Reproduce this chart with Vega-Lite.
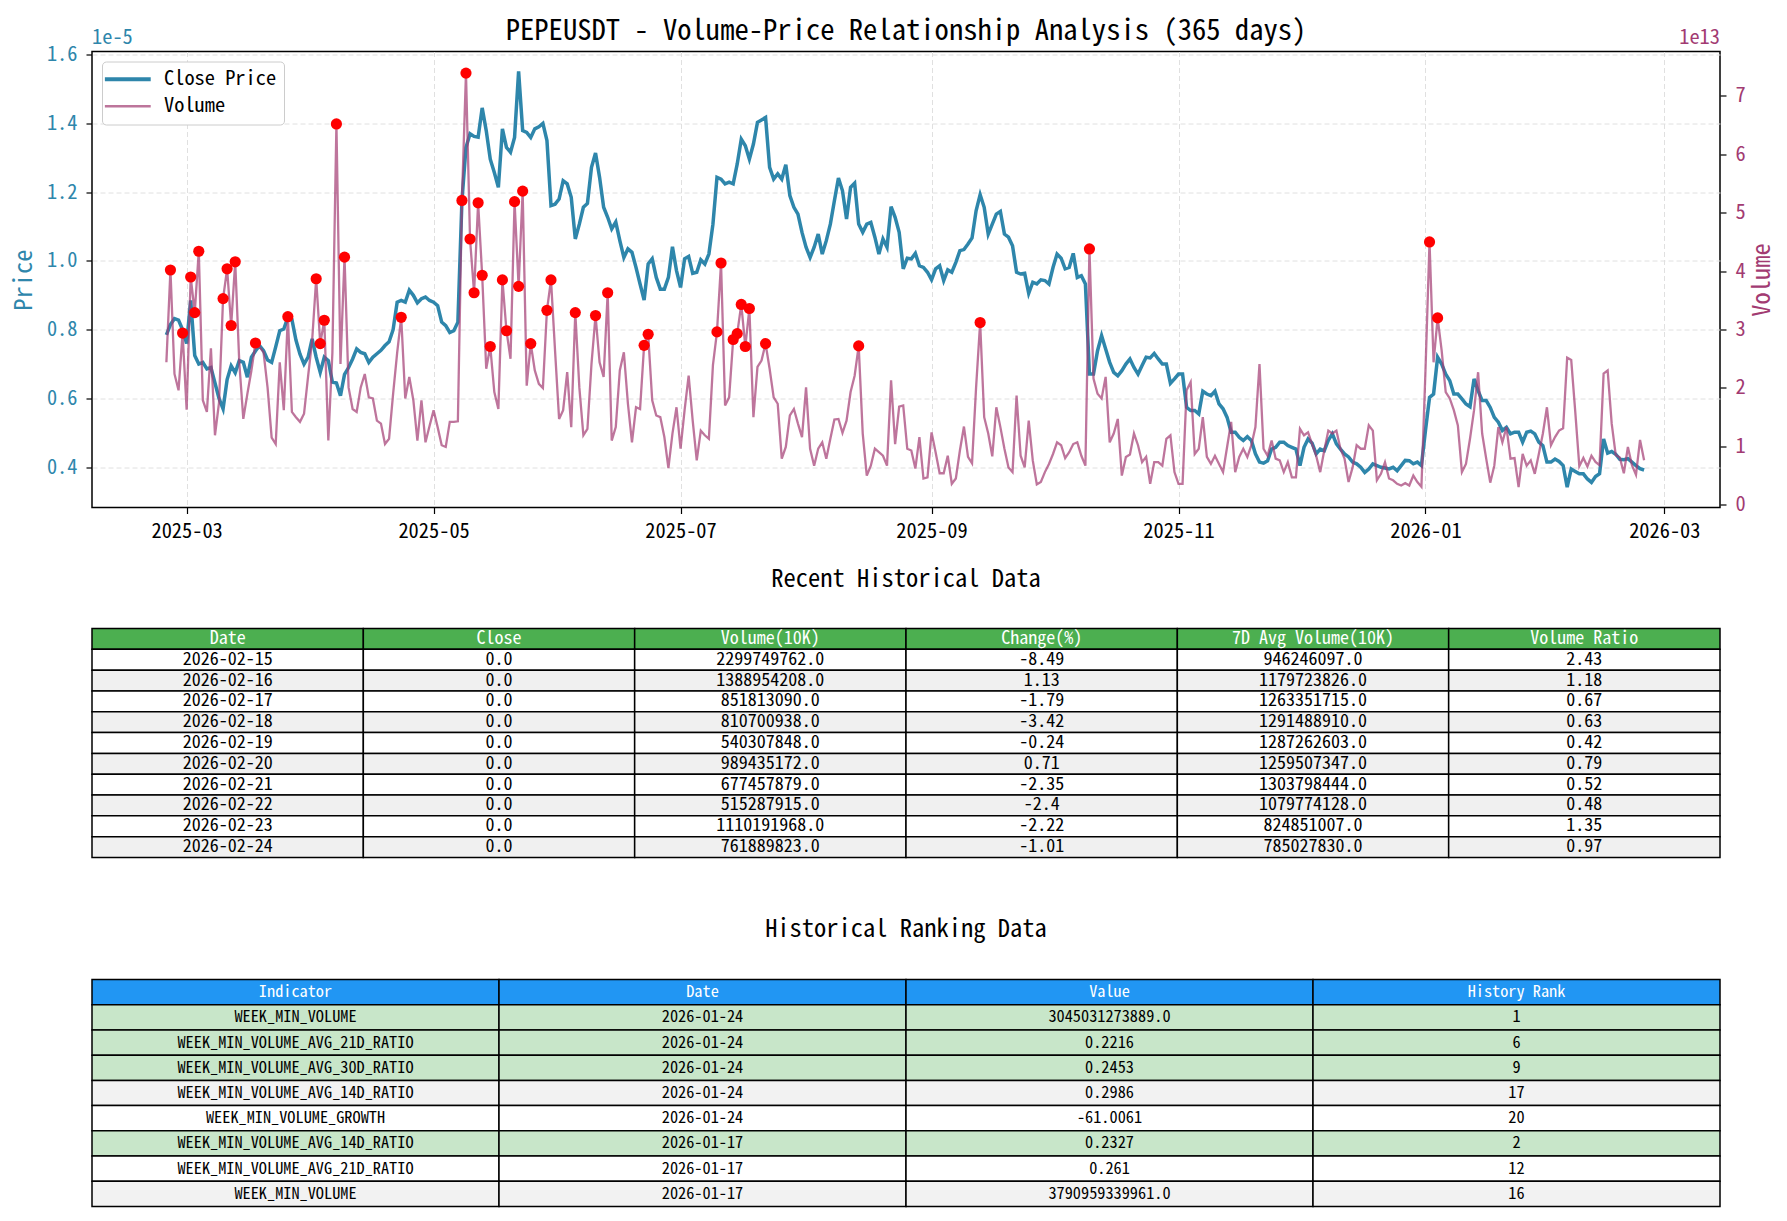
{
"$schema": "https://vega.github.io/schema/vega-lite/v6.json",
"padding": {"left": 10, "top": 15.5, "right": 5, "bottom": 5},
"background": "white",
"spacing": 23,
"datasets": {
"series": [
{"date":"2025-02-24","price":0.785e-5,"volume":2.44e13},
{"date":"2025-02-25","price":0.815e-5,"volume":4.02e13,"spike":true},
{"date":"2025-02-26","price":0.832e-5,"volume":2.24e13},
{"date":"2025-02-27","price":0.828e-5,"volume":1.96e13},
{"date":"2025-02-28","price":0.800e-5,"volume":2.94e13,"spike":true},
{"date":"2025-03-01","price":0.760e-5,"volume":1.63e13},
{"date":"2025-03-02","price":0.885e-5,"volume":3.90e13,"spike":true},
{"date":"2025-03-03","price":0.725e-5,"volume":3.29e13,"spike":true},
{"date":"2025-03-04","price":0.700e-5,"volume":4.34e13,"spike":true},
{"date":"2025-03-05","price":0.705e-5,"volume":1.79e13},
{"date":"2025-03-06","price":0.686e-5,"volume":1.59e13},
{"date":"2025-03-07","price":0.690e-5,"volume":2.68e13},
{"date":"2025-03-08","price":0.645e-5,"volume":1.19e13},
{"date":"2025-03-09","price":0.600e-5,"volume":1.75e13},
{"date":"2025-03-10","price":0.570e-5,"volume":3.53e13,"spike":true},
{"date":"2025-03-11","price":0.655e-5,"volume":4.04e13,"spike":true},
{"date":"2025-03-12","price":0.695e-5,"volume":3.07e13,"spike":true},
{"date":"2025-03-13","price":0.675e-5,"volume":4.16e13,"spike":true},
{"date":"2025-03-14","price":0.710e-5,"volume":2.44e13},
{"date":"2025-03-15","price":0.705e-5,"volume":1.47e13},
{"date":"2025-03-16","price":0.662e-5,"volume":1.90e13},
{"date":"2025-03-17","price":0.720e-5,"volume":2.30e13},
{"date":"2025-03-18","price":0.738e-5,"volume":2.77e13,"spike":true},
{"date":"2025-03-19","price":0.754e-5,"volume":2.70e13},
{"date":"2025-03-20","price":0.739e-5,"volume":2.61e13},
{"date":"2025-03-21","price":0.712e-5,"volume":2.00e13},
{"date":"2025-03-22","price":0.705e-5,"volume":1.15e13},
{"date":"2025-03-23","price":0.750e-5,"volume":1.04e13},
{"date":"2025-03-24","price":0.797e-5,"volume":2.44e13},
{"date":"2025-03-25","price":0.802e-5,"volume":1.62e13},
{"date":"2025-03-26","price":0.836e-5,"volume":3.22e13,"spike":true},
{"date":"2025-03-27","price":0.830e-5,"volume":1.59e13},
{"date":"2025-03-28","price":0.770e-5,"volume":1.50e13},
{"date":"2025-03-29","price":0.729e-5,"volume":1.42e13},
{"date":"2025-03-30","price":0.700e-5,"volume":1.56e13},
{"date":"2025-03-31","price":0.720e-5,"volume":2.20e13},
{"date":"2025-04-01","price":0.773e-5,"volume":2.81e13},
{"date":"2025-04-02","price":0.720e-5,"volume":3.87e13,"spike":true},
{"date":"2025-04-03","price":0.676e-5,"volume":2.76e13,"spike":true},
{"date":"2025-04-04","price":0.720e-5,"volume":3.16e13,"spike":true},
{"date":"2025-04-05","price":0.710e-5,"volume":1.10e13},
{"date":"2025-04-06","price":0.648e-5,"volume":2.60e13},
{"date":"2025-04-07","price":0.645e-5,"volume":6.52e13,"spike":true},
{"date":"2025-04-08","price":0.608e-5,"volume":2.41e13},
{"date":"2025-04-09","price":0.670e-5,"volume":4.24e13,"spike":true},
{"date":"2025-04-10","price":0.690e-5,"volume":2.01e13},
{"date":"2025-04-11","price":0.715e-5,"volume":1.64e13},
{"date":"2025-04-12","price":0.744e-5,"volume":1.59e13},
{"date":"2025-04-13","price":0.734e-5,"volume":2.01e13},
{"date":"2025-04-14","price":0.730e-5,"volume":2.24e13},
{"date":"2025-04-15","price":0.705e-5,"volume":1.84e13},
{"date":"2025-04-16","price":0.720e-5,"volume":1.82e13},
{"date":"2025-04-17","price":0.730e-5,"volume":1.44e13},
{"date":"2025-04-18","price":0.740e-5,"volume":1.39e13},
{"date":"2025-04-19","price":0.754e-5,"volume":1.04e13},
{"date":"2025-04-20","price":0.765e-5,"volume":1.13e13},
{"date":"2025-04-21","price":0.800e-5,"volume":1.90e13},
{"date":"2025-04-22","price":0.880e-5,"volume":2.60e13},
{"date":"2025-04-23","price":0.885e-5,"volume":3.21e13,"spike":true},
{"date":"2025-04-24","price":0.880e-5,"volume":1.82e13},
{"date":"2025-04-25","price":0.915e-5,"volume":2.19e13},
{"date":"2025-04-26","price":0.900e-5,"volume":1.79e13},
{"date":"2025-04-27","price":0.878e-5,"volume":1.10e13},
{"date":"2025-04-28","price":0.890e-5,"volume":1.79e13},
{"date":"2025-04-29","price":0.895e-5,"volume":1.07e13},
{"date":"2025-04-30","price":0.885e-5,"volume":1.35e13},
{"date":"2025-05-01","price":0.880e-5,"volume":1.62e13},
{"date":"2025-05-02","price":0.870e-5,"volume":1.33e13},
{"date":"2025-05-03","price":0.822e-5,"volume":1.02e13},
{"date":"2025-05-04","price":0.812e-5,"volume":0.99e13},
{"date":"2025-05-05","price":0.792e-5,"volume":1.42e13},
{"date":"2025-05-06","price":0.797e-5,"volume":1.42e13},
{"date":"2025-05-07","price":0.822e-5,"volume":1.43e13},
{"date":"2025-05-08","price":1.175e-5,"volume":5.21e13,"spike":true},
{"date":"2025-05-09","price":1.330e-5,"volume":7.39e13,"spike":true},
{"date":"2025-05-10","price":1.370e-5,"volume":4.55e13,"spike":true},
{"date":"2025-05-11","price":1.362e-5,"volume":3.63e13,"spike":true},
{"date":"2025-05-12","price":1.360e-5,"volume":5.17e13,"spike":true},
{"date":"2025-05-13","price":1.445e-5,"volume":3.93e13,"spike":true},
{"date":"2025-05-14","price":1.379e-5,"volume":2.33e13},
{"date":"2025-05-15","price":1.296e-5,"volume":2.71e13,"spike":true},
{"date":"2025-05-16","price":1.257e-5,"volume":1.93e13},
{"date":"2025-05-17","price":1.214e-5,"volume":1.64e13},
{"date":"2025-05-18","price":1.384e-5,"volume":3.85e13,"spike":true},
{"date":"2025-05-19","price":1.330e-5,"volume":2.98e13,"spike":true},
{"date":"2025-05-20","price":1.316e-5,"volume":2.50e13},
{"date":"2025-05-21","price":1.359e-5,"volume":5.19e13,"spike":true},
{"date":"2025-05-22","price":1.551e-5,"volume":3.74e13,"spike":true},
{"date":"2025-05-23","price":1.379e-5,"volume":5.37e13,"spike":true},
{"date":"2025-05-24","price":1.374e-5,"volume":2.04e13},
{"date":"2025-05-25","price":1.359e-5,"volume":2.76e13,"spike":true},
{"date":"2025-05-26","price":1.384e-5,"volume":2.30e13},
{"date":"2025-05-27","price":1.390e-5,"volume":2.07e13},
{"date":"2025-05-28","price":1.400e-5,"volume":2.00e13},
{"date":"2025-05-29","price":1.350e-5,"volume":3.33e13,"spike":true},
{"date":"2025-05-30","price":1.161e-5,"volume":3.85e13,"spike":true},
{"date":"2025-05-31","price":1.165e-5,"volume":2.64e13},
{"date":"2025-06-01","price":1.180e-5,"volume":1.47e13},
{"date":"2025-06-02","price":1.233e-5,"volume":1.62e13},
{"date":"2025-06-03","price":1.224e-5,"volume":2.27e13},
{"date":"2025-06-04","price":1.185e-5,"volume":1.33e13},
{"date":"2025-06-05","price":1.064e-5,"volume":3.29e13,"spike":true},
{"date":"2025-06-06","price":1.107e-5,"volume":2.01e13},
{"date":"2025-06-07","price":1.156e-5,"volume":1.19e13},
{"date":"2025-06-08","price":1.167e-5,"volume":1.30e13},
{"date":"2025-06-09","price":1.272e-5,"volume":2.41e13},
{"date":"2025-06-10","price":1.314e-5,"volume":3.24e13,"spike":true},
{"date":"2025-06-11","price":1.243e-5,"volume":2.44e13},
{"date":"2025-06-12","price":1.156e-5,"volume":2.19e13},
{"date":"2025-06-13","price":1.127e-5,"volume":3.63e13,"spike":true},
{"date":"2025-06-14","price":1.093e-5,"volume":1.10e13},
{"date":"2025-06-15","price":1.113e-5,"volume":1.33e13},
{"date":"2025-06-16","price":1.059e-5,"volume":2.30e13},
{"date":"2025-06-17","price":1.010e-5,"volume":2.61e13},
{"date":"2025-06-18","price":1.035e-5,"volume":1.73e13},
{"date":"2025-06-19","price":1.025e-5,"volume":1.07e13},
{"date":"2025-06-20","price":0.981e-5,"volume":1.67e13},
{"date":"2025-06-21","price":0.933e-5,"volume":1.64e13},
{"date":"2025-06-22","price":0.886e-5,"volume":2.73e13,"spike":true},
{"date":"2025-06-23","price":0.991e-5,"volume":2.92e13,"spike":true},
{"date":"2025-06-24","price":1.006e-5,"volume":1.79e13},
{"date":"2025-06-25","price":0.952e-5,"volume":1.53e13},
{"date":"2025-06-26","price":0.918e-5,"volume":1.50e13},
{"date":"2025-06-27","price":0.918e-5,"volume":1.16e13},
{"date":"2025-06-28","price":0.952e-5,"volume":0.63e13},
{"date":"2025-06-29","price":1.041e-5,"volume":1.22e13},
{"date":"2025-06-30","price":0.972e-5,"volume":1.67e13},
{"date":"2025-07-01","price":0.923e-5,"volume":0.96e13},
{"date":"2025-07-02","price":1.006e-5,"volume":1.62e13},
{"date":"2025-07-03","price":1.013e-5,"volume":2.21e13},
{"date":"2025-07-04","price":0.964e-5,"volume":1.44e13},
{"date":"2025-07-05","price":0.967e-5,"volume":0.76e13},
{"date":"2025-07-06","price":1.003e-5,"volume":1.27e13},
{"date":"2025-07-07","price":0.991e-5,"volume":1.19e13},
{"date":"2025-07-08","price":1.020e-5,"volume":1.13e13},
{"date":"2025-07-09","price":1.107e-5,"volume":2.39e13},
{"date":"2025-07-10","price":1.243e-5,"volume":2.96e13,"spike":true},
{"date":"2025-07-11","price":1.238e-5,"volume":4.14e13,"spike":true},
{"date":"2025-07-12","price":1.224e-5,"volume":1.70e13},
{"date":"2025-07-13","price":1.229e-5,"volume":1.84e13},
{"date":"2025-07-14","price":1.224e-5,"volume":2.83e13,"spike":true},
{"date":"2025-07-15","price":1.282e-5,"volume":2.93e13,"spike":true},
{"date":"2025-07-16","price":1.354e-5,"volume":3.43e13,"spike":true},
{"date":"2025-07-17","price":1.335e-5,"volume":2.71e13,"spike":true},
{"date":"2025-07-18","price":1.296e-5,"volume":3.36e13,"spike":true},
{"date":"2025-07-19","price":1.340e-5,"volume":1.50e13},
{"date":"2025-07-20","price":1.403e-5,"volume":2.36e13},
{"date":"2025-07-21","price":1.410e-5,"volume":2.47e13},
{"date":"2025-07-22","price":1.417e-5,"volume":2.76e13,"spike":true},
{"date":"2025-07-23","price":1.272e-5,"volume":2.33e13},
{"date":"2025-07-24","price":1.238e-5,"volume":1.84e13},
{"date":"2025-07-25","price":1.253e-5,"volume":1.73e13},
{"date":"2025-07-26","price":1.238e-5,"volume":0.79e13},
{"date":"2025-07-27","price":1.280e-5,"volume":0.99e13},
{"date":"2025-07-28","price":1.190e-5,"volume":1.53e13},
{"date":"2025-07-29","price":1.156e-5,"volume":1.64e13},
{"date":"2025-07-30","price":1.136e-5,"volume":1.39e13},
{"date":"2025-07-31","price":1.083e-5,"volume":1.16e13},
{"date":"2025-08-01","price":1.040e-5,"volume":2.01e13},
{"date":"2025-08-02","price":1.010e-5,"volume":0.96e13},
{"date":"2025-08-03","price":1.040e-5,"volume":0.67e13},
{"date":"2025-08-04","price":1.078e-5,"volume":0.96e13},
{"date":"2025-08-05","price":1.020e-5,"volume":1.07e13},
{"date":"2025-08-06","price":1.059e-5,"volume":0.79e13},
{"date":"2025-08-07","price":1.107e-5,"volume":1.13e13},
{"date":"2025-08-08","price":1.175e-5,"volume":1.46e13},
{"date":"2025-08-09","price":1.241e-5,"volume":1.47e13},
{"date":"2025-08-10","price":1.204e-5,"volume":1.23e13},
{"date":"2025-08-11","price":1.122e-5,"volume":1.44e13},
{"date":"2025-08-12","price":1.214e-5,"volume":1.93e13},
{"date":"2025-08-13","price":1.226e-5,"volume":2.21e13},
{"date":"2025-08-14","price":1.107e-5,"volume":2.72e13,"spike":true},
{"date":"2025-08-15","price":1.083e-5,"volume":1.22e13},
{"date":"2025-08-16","price":1.107e-5,"volume":0.50e13},
{"date":"2025-08-17","price":1.112e-5,"volume":0.67e13},
{"date":"2025-08-18","price":1.069e-5,"volume":0.96e13},
{"date":"2025-08-19","price":1.020e-5,"volume":0.90e13},
{"date":"2025-08-20","price":1.064e-5,"volume":0.84e13},
{"date":"2025-08-21","price":1.040e-5,"volume":0.67e13},
{"date":"2025-08-22","price":1.158e-5,"volume":2.13e13},
{"date":"2025-08-23","price":1.127e-5,"volume":1.04e13},
{"date":"2025-08-24","price":1.083e-5,"volume":1.68e13},
{"date":"2025-08-25","price":0.977e-5,"volume":1.70e13},
{"date":"2025-08-26","price":1.008e-5,"volume":0.96e13},
{"date":"2025-08-27","price":1.006e-5,"volume":0.93e13},
{"date":"2025-08-28","price":1.022e-5,"volume":0.62e13},
{"date":"2025-08-29","price":0.986e-5,"volume":1.16e13},
{"date":"2025-08-30","price":0.981e-5,"volume":0.45e13},
{"date":"2025-08-31","price":0.967e-5,"volume":0.47e13},
{"date":"2025-09-01","price":0.945e-5,"volume":1.24e13},
{"date":"2025-09-02","price":0.977e-5,"volume":0.90e13},
{"date":"2025-09-03","price":0.986e-5,"volume":0.54e13},
{"date":"2025-09-04","price":0.943e-5,"volume":0.54e13},
{"date":"2025-09-05","price":0.974e-5,"volume":0.84e13},
{"date":"2025-09-06","price":0.967e-5,"volume":0.36e13},
{"date":"2025-09-07","price":0.996e-5,"volume":0.45e13},
{"date":"2025-09-08","price":1.030e-5,"volume":0.93e13},
{"date":"2025-09-09","price":1.033e-5,"volume":1.34e13},
{"date":"2025-09-10","price":1.049e-5,"volume":0.82e13},
{"date":"2025-09-11","price":1.067e-5,"volume":0.71e13},
{"date":"2025-09-12","price":1.146e-5,"volume":2.01e13},
{"date":"2025-09-13","price":1.193e-5,"volume":3.12e13,"spike":true},
{"date":"2025-09-14","price":1.156e-5,"volume":1.50e13},
{"date":"2025-09-15","price":1.078e-5,"volume":1.22e13},
{"date":"2025-09-16","price":1.107e-5,"volume":0.83e13},
{"date":"2025-09-17","price":1.136e-5,"volume":1.67e13},
{"date":"2025-09-18","price":1.144e-5,"volume":1.33e13},
{"date":"2025-09-19","price":1.078e-5,"volume":0.96e13},
{"date":"2025-09-20","price":1.069e-5,"volume":0.64e13},
{"date":"2025-09-21","price":1.044e-5,"volume":0.56e13},
{"date":"2025-09-22","price":0.967e-5,"volume":1.87e13},
{"date":"2025-09-23","price":0.962e-5,"volume":0.84e13},
{"date":"2025-09-24","price":0.964e-5,"volume":0.64e13},
{"date":"2025-09-25","price":0.906e-5,"volume":1.44e13},
{"date":"2025-09-26","price":0.938e-5,"volume":0.76e13},
{"date":"2025-09-27","price":0.933e-5,"volume":0.35e13},
{"date":"2025-09-28","price":0.945e-5,"volume":0.39e13},
{"date":"2025-09-29","price":0.943e-5,"volume":0.56e13},
{"date":"2025-09-30","price":0.933e-5,"volume":0.70e13},
{"date":"2025-10-01","price":0.981e-5,"volume":0.87e13},
{"date":"2025-10-02","price":1.020e-5,"volume":1.07e13},
{"date":"2025-10-03","price":1.008e-5,"volume":1.02e13},
{"date":"2025-10-04","price":0.977e-5,"volume":0.80e13},
{"date":"2025-10-05","price":0.981e-5,"volume":0.90e13},
{"date":"2025-10-06","price":1.022e-5,"volume":1.04e13},
{"date":"2025-10-07","price":0.952e-5,"volume":1.07e13},
{"date":"2025-10-08","price":0.957e-5,"volume":0.84e13},
{"date":"2025-10-09","price":0.933e-5,"volume":0.67e13},
{"date":"2025-10-10","price":0.671e-5,"volume":4.38e13,"spike":true},
{"date":"2025-10-11","price":0.671e-5,"volume":2.16e13},
{"date":"2025-10-12","price":0.739e-5,"volume":1.90e13},
{"date":"2025-10-13","price":0.783e-5,"volume":1.82e13},
{"date":"2025-10-14","price":0.744e-5,"volume":2.19e13},
{"date":"2025-10-15","price":0.705e-5,"volume":1.07e13},
{"date":"2025-10-16","price":0.676e-5,"volume":1.22e13},
{"date":"2025-10-17","price":0.666e-5,"volume":1.47e13},
{"date":"2025-10-18","price":0.681e-5,"volume":0.50e13},
{"date":"2025-10-19","price":0.700e-5,"volume":0.82e13},
{"date":"2025-10-20","price":0.715e-5,"volume":0.86e13},
{"date":"2025-10-21","price":0.690e-5,"volume":1.22e13},
{"date":"2025-10-22","price":0.671e-5,"volume":1.02e13},
{"date":"2025-10-23","price":0.696e-5,"volume":0.73e13},
{"date":"2025-10-24","price":0.720e-5,"volume":0.82e13},
{"date":"2025-10-25","price":0.718e-5,"volume":0.36e13},
{"date":"2025-10-26","price":0.731e-5,"volume":0.73e13},
{"date":"2025-10-27","price":0.715e-5,"volume":0.73e13},
{"date":"2025-10-28","price":0.700e-5,"volume":0.67e13},
{"date":"2025-10-29","price":0.700e-5,"volume":1.13e13},
{"date":"2025-10-30","price":0.644e-5,"volume":1.19e13},
{"date":"2025-10-31","price":0.657e-5,"volume":0.56e13},
{"date":"2025-11-01","price":0.671e-5,"volume":0.36e13},
{"date":"2025-11-02","price":0.671e-5,"volume":0.36e13},
{"date":"2025-11-03","price":0.574e-5,"volume":1.96e13},
{"date":"2025-11-04","price":0.565e-5,"volume":2.10e13},
{"date":"2025-11-05","price":0.565e-5,"volume":0.87e13},
{"date":"2025-11-06","price":0.555e-5,"volume":0.96e13},
{"date":"2025-11-07","price":0.621e-5,"volume":1.50e13},
{"date":"2025-11-08","price":0.613e-5,"volume":0.82e13},
{"date":"2025-11-09","price":0.608e-5,"volume":0.70e13},
{"date":"2025-11-10","price":0.621e-5,"volume":0.84e13},
{"date":"2025-11-11","price":0.584e-5,"volume":0.70e13},
{"date":"2025-11-12","price":0.570e-5,"volume":0.56e13},
{"date":"2025-11-13","price":0.545e-5,"volume":0.99e13},
{"date":"2025-11-14","price":0.502e-5,"volume":1.42e13},
{"date":"2025-11-15","price":0.502e-5,"volume":0.56e13},
{"date":"2025-11-16","price":0.487e-5,"volume":0.82e13},
{"date":"2025-11-17","price":0.478e-5,"volume":0.96e13},
{"date":"2025-11-18","price":0.489e-5,"volume":0.82e13},
{"date":"2025-11-19","price":0.478e-5,"volume":1.02e13},
{"date":"2025-11-20","price":0.439e-5,"volume":1.33e13},
{"date":"2025-11-21","price":0.415e-5,"volume":2.41e13},
{"date":"2025-11-22","price":0.412e-5,"volume":0.96e13},
{"date":"2025-11-23","price":0.419e-5,"volume":0.84e13},
{"date":"2025-11-24","price":0.453e-5,"volume":1.10e13},
{"date":"2025-11-25","price":0.458e-5,"volume":0.79e13},
{"date":"2025-11-26","price":0.473e-5,"volume":0.76e13},
{"date":"2025-11-27","price":0.473e-5,"volume":0.56e13},
{"date":"2025-11-28","price":0.463e-5,"volume":0.73e13},
{"date":"2025-11-29","price":0.458e-5,"volume":0.47e13},
{"date":"2025-11-30","price":0.453e-5,"volume":0.47e13},
{"date":"2025-12-01","price":0.405e-5,"volume":1.30e13},
{"date":"2025-12-02","price":0.458e-5,"volume":1.19e13},
{"date":"2025-12-03","price":0.482e-5,"volume":1.24e13},
{"date":"2025-12-04","price":0.470e-5,"volume":1.04e13},
{"date":"2025-12-05","price":0.439e-5,"volume":0.84e13},
{"date":"2025-12-06","price":0.453e-5,"volume":0.56e13},
{"date":"2025-12-07","price":0.448e-5,"volume":0.93e13},
{"date":"2025-12-08","price":0.478e-5,"volume":1.27e13},
{"date":"2025-12-09","price":0.497e-5,"volume":1.22e13},
{"date":"2025-12-10","price":0.468e-5,"volume":1.27e13},
{"date":"2025-12-11","price":0.453e-5,"volume":0.96e13},
{"date":"2025-12-12","price":0.439e-5,"volume":0.79e13},
{"date":"2025-12-13","price":0.430e-5,"volume":0.39e13},
{"date":"2025-12-14","price":0.415e-5,"volume":0.64e13},
{"date":"2025-12-15","price":0.410e-5,"volume":1.02e13},
{"date":"2025-12-16","price":0.400e-5,"volume":0.96e13},
{"date":"2025-12-17","price":0.385e-5,"volume":0.96e13},
{"date":"2025-12-18","price":0.395e-5,"volume":1.36e13},
{"date":"2025-12-19","price":0.410e-5,"volume":1.27e13},
{"date":"2025-12-20","price":0.405e-5,"volume":0.42e13},
{"date":"2025-12-21","price":0.400e-5,"volume":0.53e13},
{"date":"2025-12-22","price":0.398e-5,"volume":0.73e13},
{"date":"2025-12-23","price":0.395e-5,"volume":0.45e13},
{"date":"2025-12-24","price":0.400e-5,"volume":0.42e13},
{"date":"2025-12-25","price":0.390e-5,"volume":0.36e13},
{"date":"2025-12-26","price":0.405e-5,"volume":0.33e13},
{"date":"2025-12-27","price":0.420e-5,"volume":0.37e13},
{"date":"2025-12-28","price":0.419e-5,"volume":0.33e13},
{"date":"2025-12-29","price":0.410e-5,"volume":0.50e13},
{"date":"2025-12-30","price":0.415e-5,"volume":0.39e13},
{"date":"2025-12-31","price":0.405e-5,"volume":0.31e13},
{"date":"2026-01-01","price":0.507e-5,"volume":2.30e13},
{"date":"2026-01-02","price":0.603e-5,"volume":4.50e13,"spike":true},
{"date":"2026-01-03","price":0.613e-5,"volume":2.44e13},
{"date":"2026-01-04","price":0.720e-5,"volume":3.20e13,"spike":true},
{"date":"2026-01-05","price":0.700e-5,"volume":2.64e13},
{"date":"2026-01-06","price":0.671e-5,"volume":1.93e13},
{"date":"2026-01-07","price":0.652e-5,"volume":1.82e13},
{"date":"2026-01-08","price":0.613e-5,"volume":1.62e13},
{"date":"2026-01-09","price":0.613e-5,"volume":1.36e13},
{"date":"2026-01-10","price":0.599e-5,"volume":0.56e13},
{"date":"2026-01-11","price":0.584e-5,"volume":0.70e13},
{"date":"2026-01-12","price":0.576e-5,"volume":1.13e13},
{"date":"2026-01-13","price":0.657e-5,"volume":1.62e13},
{"date":"2026-01-14","price":0.623e-5,"volume":2.27e13},
{"date":"2026-01-15","price":0.594e-5,"volume":1.22e13},
{"date":"2026-01-16","price":0.594e-5,"volume":0.79e13},
{"date":"2026-01-17","price":0.574e-5,"volume":0.3791e13},
{"date":"2026-01-18","price":0.545e-5,"volume":0.67e13},
{"date":"2026-01-19","price":0.531e-5,"volume":1.33e13},
{"date":"2026-01-20","price":0.507e-5,"volume":1.07e13},
{"date":"2026-01-21","price":0.516e-5,"volume":1.33e13},
{"date":"2026-01-22","price":0.497e-5,"volume":0.79e13},
{"date":"2026-01-23","price":0.502e-5,"volume":0.80e13},
{"date":"2026-01-24","price":0.502e-5,"volume":0.3045e13},
{"date":"2026-01-25","price":0.473e-5,"volume":0.87e13},
{"date":"2026-01-26","price":0.502e-5,"volume":0.67e13},
{"date":"2026-01-27","price":0.505e-5,"volume":0.76e13},
{"date":"2026-01-28","price":0.497e-5,"volume":0.53e13},
{"date":"2026-01-29","price":0.473e-5,"volume":0.87e13},
{"date":"2026-01-30","price":0.463e-5,"volume":1.22e13},
{"date":"2026-01-31","price":0.415e-5,"volume":1.67e13},
{"date":"2026-02-01","price":0.415e-5,"volume":1.02e13},
{"date":"2026-02-02","price":0.424e-5,"volume":1.16e13},
{"date":"2026-02-03","price":0.417e-5,"volume":1.27e13},
{"date":"2026-02-04","price":0.405e-5,"volume":1.31e13},
{"date":"2026-02-05","price":0.342e-5,"volume":2.52e13},
{"date":"2026-02-06","price":0.395e-5,"volume":2.48e13},
{"date":"2026-02-07","price":0.388e-5,"volume":1.59e13},
{"date":"2026-02-08","price":0.381e-5,"volume":0.662e13},
{"date":"2026-02-09","price":0.381e-5,"volume":0.803e13},
{"date":"2026-02-10","price":0.366e-5,"volume":0.656e13},
{"date":"2026-02-11","price":0.356e-5,"volume":0.840e13},
{"date":"2026-02-12","price":0.373e-5,"volume":0.734e13},
{"date":"2026-02-13","price":0.381e-5,"volume":0.679e13},
{"date":"2026-02-14","price":0.482e-5,"volume":2.245e13},
{"date":"2026-02-15","price":0.441e-5,"volume":2.2997e13},
{"date":"2026-02-16","price":0.446e-5,"volume":1.3890e13},
{"date":"2026-02-17","price":0.438e-5,"volume":0.8518e13},
{"date":"2026-02-18","price":0.423e-5,"volume":0.8107e13},
{"date":"2026-02-19","price":0.422e-5,"volume":0.5403e13},
{"date":"2026-02-20","price":0.425e-5,"volume":0.9894e13},
{"date":"2026-02-21","price":0.415e-5,"volume":0.6775e13},
{"date":"2026-02-22","price":0.405e-5,"volume":0.5153e13},
{"date":"2026-02-23","price":0.396e-5,"volume":1.1102e13},
{"date":"2026-02-24","price":0.392e-5,"volume":0.7619e13}
],
"t1": [
{"r":0,"a":"Date","b":"Close","c":"Volume(10K)","d":"Change(%)","e":"7D Avg Volume(10K)","f":"Volume Ratio"},
{"r":1,"a":"2026-02-15","b":"0.0","c":"2299749762.0","d":"-8.49","e":"946246097.0","f":"2.43"},
{"r":2,"a":"2026-02-16","b":"0.0","c":"1388954208.0","d":"1.13","e":"1179723826.0","f":"1.18"},
{"r":3,"a":"2026-02-17","b":"0.0","c":"851813090.0","d":"-1.79","e":"1263351715.0","f":"0.67"},
{"r":4,"a":"2026-02-18","b":"0.0","c":"810700938.0","d":"-3.42","e":"1291488910.0","f":"0.63"},
{"r":5,"a":"2026-02-19","b":"0.0","c":"540307848.0","d":"-0.24","e":"1287262603.0","f":"0.42"},
{"r":6,"a":"2026-02-20","b":"0.0","c":"989435172.0","d":"0.71","e":"1259507347.0","f":"0.79"},
{"r":7,"a":"2026-02-21","b":"0.0","c":"677457879.0","d":"-2.35","e":"1303798444.0","f":"0.52"},
{"r":8,"a":"2026-02-22","b":"0.0","c":"515287915.0","d":"-2.4","e":"1079774128.0","f":"0.48"},
{"r":9,"a":"2026-02-23","b":"0.0","c":"1110191968.0","d":"-2.22","e":"824851007.0","f":"1.35"},
{"r":10,"a":"2026-02-24","b":"0.0","c":"761889823.0","d":"-1.01","e":"785027830.0","f":"0.97"}
],
"t2": [
{"r":0,"a":"Indicator","b":"Date","c":"Value","d":"History Rank"},
{"r":1,"a":"WEEK_MIN_VOLUME","b":"2026-01-24","c":"3045031273889.0","d":"1","rank":1},
{"r":2,"a":"WEEK_MIN_VOLUME_AVG_21D_RATIO","b":"2026-01-24","c":"0.2216","d":"6","rank":6},
{"r":3,"a":"WEEK_MIN_VOLUME_AVG_30D_RATIO","b":"2026-01-24","c":"0.2453","d":"9","rank":9},
{"r":4,"a":"WEEK_MIN_VOLUME_AVG_14D_RATIO","b":"2026-01-24","c":"0.2986","d":"17","rank":17},
{"r":5,"a":"WEEK_MIN_VOLUME_GROWTH","b":"2026-01-24","c":"-61.0061","d":"20","rank":20},
{"r":6,"a":"WEEK_MIN_VOLUME_AVG_14D_RATIO","b":"2026-01-17","c":"0.2327","d":"2","rank":2},
{"r":7,"a":"WEEK_MIN_VOLUME_AVG_21D_RATIO","b":"2026-01-17","c":"0.261","d":"12","rank":12},
{"r":8,"a":"WEEK_MIN_VOLUME","b":"2026-01-17","c":"3790959339961.0","d":"16","rank":16}
]
},
"vconcat": [
{
"width": 1628,
"height": 456,
"title": {"text": "PEPEUSDT - Volume-Price Relationship Analysis (365 days)", "fontSize": 28.6, "fontWeight": "normal", "frame": "group", "anchor": "middle", "offset": -17.8, "color": "black"},
"view": {"stroke": "black", "strokeWidth": 1.5},
"data": {"name": "series"},
"encoding": {
"x": {"field": "date", "type": "temporal", "title": null,
"scale": {"type": "utc", "domain": [{"year": 2025, "month": 2, "date": 5, "hours": 15, "utc": true}, {"year": 2026, "month": 3, "date": 14, "hours": 18, "utc": true}]},
"axis": {"values": [{"year": 2025, "month": 3, "date": 1, "utc": true}, {"year": 2025, "month": 5, "date": 1, "utc": true}, {"year": 2025, "month": 7, "date": 1, "utc": true}, {"year": 2025, "month": 9, "date": 1, "utc": true}, {"year": 2025, "month": 11, "date": 1, "utc": true}, {"year": 2026, "month": 1, "date": 1, "utc": true}, {"year": 2026, "month": 3, "date": 1, "utc": true}],
"labelExpr": "utcFormat(datum.value, '%Y-%m')", "grid": true, "gridDash": [5, 3], "gridColor": "#e0e0e0", "gridWidth": 1, "domain": false, "labelColor": "black", "labelPadding": 8}}
},
"layer": [
{"layer": [
{"mark": {"type": "line", "strokeWidth": 3.5},
"encoding": {
"y": {"field": "price", "type": "quantitative", "title": "Price",
"scale": {"domain": [0.283e-5, 1.609e-5], "nice": false, "zero": false},
"axis": {"values": [0.4e-5, 0.6e-5, 0.8e-5, 1.0e-5, 1.2e-5, 1.4e-5, 1.6e-5], "labelExpr": "format(datum.value * 1e5, '.1f')", "labelColor": "#2E86AB", "titleColor": "#2E86AB", "grid": true, "gridDash": [5, 3], "gridColor": "#e0e0e0", "gridWidth": 1, "domain": false, "labelPadding": 9, "titlePadding": 10}},
"color": {"datum": "Close Price", "type": "nominal",
"scale": {"domain": ["Close Price", "Volume"], "range": ["#2E86AB", "#A23B72"]},
"legend": {"title": null, "orient": "top-left", "offset": 10, "fillColor": "white", "strokeColor": "#cccccc", "cornerRadius": 4, "padding": 7.6, "symbolType": "stroke", "symbolSize": 2100, "symbolStrokeWidth": 3.5, "symbolOffset": 8, "labelFontSize": 20.4, "labelOffset": 26, "rowPadding": 6, "labelColor": "black",
"encode": {"symbols": {"update": {"strokeWidth": {"signal": "datum.value === 'Close Price' ? 4 : 2.5"}, "opacity": {"signal": "datum.value === 'Close Price' ? 1 : 0.7"}}}}}}
}},
{"transform": [{"window": [{"op": "row_number", "as": "rn"}]}, {"filter": "datum.rn == 1"}],
"mark": {"type": "text", "align": "left", "baseline": "bottom", "dy": -4, "fontSize": 20.4, "color": "#2E86AB", "text": "1e-5"},
"encoding": {"x": {"datum": {"year": 2025, "month": 2, "date": 5, "hours": 15, "utc": true}, "type": "temporal"}, "y": {"datum": 1.609e-5, "type": "quantitative"}}},
{"transform": [{"window": [{"op": "row_number", "as": "rn"}]}, {"filter": "datum.rn == 1"}],
"mark": {"type": "text", "align": "right", "baseline": "bottom", "dy": -4, "fontSize": 20.4, "color": "#A23B72", "text": "1e13"},
"encoding": {"x": {"datum": {"year": 2026, "month": 3, "date": 14, "hours": 18, "utc": true}, "type": "temporal"}, "y": {"datum": 1.609e-5, "type": "quantitative"}}}
]},
{"layer": [
{"mark": {"type": "line", "strokeWidth": 2.3, "opacity": 0.7},
"encoding": {
"y": {"field": "volume", "type": "quantitative", "title": "Volume",
"scale": {"domain": [-0.046e13, 7.76e13], "nice": false, "zero": false},
"axis": {"orient": "right", "values": [0, 1e13, 2e13, 3e13, 4e13, 5e13, 6e13, 7e13], "labelExpr": "format(datum.value / 1e13, 'd')", "labelColor": "#A23B72", "titleColor": "#A23B72", "grid": false, "domain": false, "labelPadding": 9, "titlePadding": 5, "titleAngle": 270, "titleBaseline": "top"}},
"color": {"datum": "Volume", "type": "nominal", "scale": {"domain": ["Close Price", "Volume"], "range": ["#2E86AB", "#A23B72"]}}
}},
{"transform": [{"filter": "datum.spike === true"}],
"mark": {"type": "circle", "color": "#FF0000", "opacity": 1, "size": 125},
"encoding": {"y": {"field": "volume", "type": "quantitative"}}}
]}
],
"resolve": {"scale": {"y": "independent"}}
},
{
"spacing": 58,
"vconcat": [
{
"width": 1628,
"height": 229,
"title": {"text": "Recent Historical Data", "fontSize": 24.5, "fontWeight": "normal", "frame": "group", "anchor": "middle", "offset": 35, "color": "black"},
"data": {"name": "t1"},
"transform": [{"fold": ["a", "b", "c", "d", "e", "f"], "as": ["col", "txt"]}],
"encoding": {
"x": {"field": "col", "type": "nominal", "scale": {"paddingInner": 0, "paddingOuter": 0}, "axis": null},
"y": {"field": "r", "type": "ordinal", "scale": {"paddingInner": 0, "paddingOuter": 0}, "axis": null}
},
"layer": [
{"mark": {"type": "rect", "stroke": "black", "strokeWidth": 1.5},
"encoding": {"fill": {"condition": [{"test": "datum.r == 0", "value": "#4CAF50"}, {"test": "datum.r % 2 == 0", "value": "#F0F0F0"}], "value": "white"}}},
{"mark": {"type": "text", "fontSize": 18, "baseline": "middle"},
"encoding": {"text": {"field": "txt"}, "color": {"condition": {"test": "datum.r == 0", "value": "white"}, "value": "black"}}}
]
},
{
"width": 1628,
"height": 227,
"title": {"text": "Historical Ranking Data", "fontSize": 24.5, "fontWeight": "normal", "frame": "group", "anchor": "middle", "offset": 36, "color": "black"},
"data": {"name": "t2"},
"transform": [{"fold": ["a", "b", "c", "d"], "as": ["col", "txt"]}],
"encoding": {
"x": {"field": "col", "type": "nominal", "scale": {"paddingInner": 0, "paddingOuter": 0}, "axis": null},
"y": {"field": "r", "type": "ordinal", "scale": {"paddingInner": 0, "paddingOuter": 0}, "axis": null}
},
"layer": [
{"mark": {"type": "rect", "stroke": "black", "strokeWidth": 1.5},
"encoding": {"fill": {"condition": [{"test": "datum.r == 0", "value": "#2196F3"}, {"test": "datum.rank <= 10", "value": "#C8E6C9"}, {"test": "datum.r % 2 == 0", "value": "#F2F2F2"}], "value": "white"}}},
{"mark": {"type": "text", "fontSize": 16.3, "baseline": "middle"},
"encoding": {"text": {"field": "txt"}, "color": {"condition": {"test": "datum.r == 0", "value": "white"}, "value": "black"}}}
]
}
]
}
],
"config": {
"font": "'Noto Sans Mono CJK SC', 'DejaVu Sans Mono'",
"view": {"stroke": null},
"axis": {"labelFont": "'Noto Sans Mono CJK SC', 'DejaVu Sans Mono'", "titleFont": "'Noto Sans Mono CJK SC', 'DejaVu Sans Mono'", "labelFontSize": 20.4, "titleFontSize": 24.5, "titleFontWeight": "normal", "tickColor": "black", "tickSize": 6, "tickWidth": 1.2},
"title": {"font": "'Noto Sans Mono CJK SC', 'DejaVu Sans Mono'"},
"legend": {"labelFont": "'Noto Sans Mono CJK SC', 'DejaVu Sans Mono'"},
"text": {"font": "'Noto Sans Mono CJK SC', 'DejaVu Sans Mono'"}
}
}
